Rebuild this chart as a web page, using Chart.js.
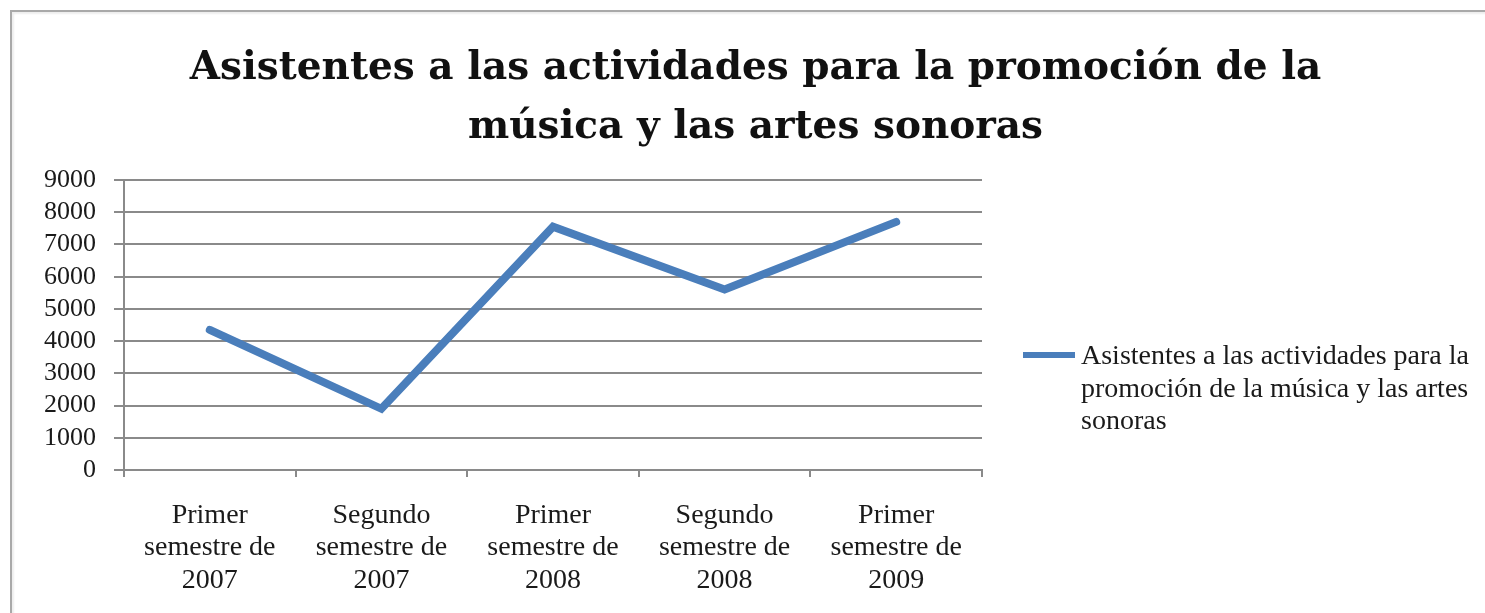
<!DOCTYPE html>
<html>
<head>
<meta charset="utf-8">
<script src="https://cdn.jsdelivr.net/npm/chart.js@4/dist/chart.umd.min.js"></script>
<style>
  html, body { margin: 0; padding: 0; background: #fff; overflow: hidden; }
  #frame { position: absolute; left: 10px; top: 10px; width: 1600px; height: 800px;
           border-left: 2px solid #a9a9a9; border-top: 2px solid #a9a9a9;
           box-shadow: inset 2px 2px 2px #eeeeee; }
  #c { position: absolute; left: 0; top: 0; }
</style>
</head>
<body>
<div id="frame"></div>
<canvas id="c" width="1485" height="613"></canvas>
<script>
const titleLines = ['Asistentes a las actividades para la promoción de la', 'música y las artes sonoras'];
const categories = [
  ['Primer', 'semestre de', '2007'],
  ['Segundo', 'semestre de', '2007'],
  ['Primer', 'semestre de', '2008'],
  ['Segundo', 'semestre de', '2008'],
  ['Primer', 'semestre de', '2009']
];
const seriesLabel = 'Asistentes a las actividades para la promoción de la música y las artes sonoras';
const seriesValues = [4350, 1900, 7550, 5600, 7700];
const yTicks = [0, 1000, 2000, 3000, 4000, 5000, 6000, 7000, 8000, 9000];

const lineColor = '#4a7ebb';
const gridColor = '#8a8a8a';
const serif = "'Liberation Serif', 'DejaVu Serif', serif";
const titleFont = "'DejaVu Serif', 'Liberation Serif', serif";

const wrappedLegend = {
  id: 'wrappedLegend',
  afterDraw(chart) {
    const ctx = chart.ctx;
    const ds = chart.data.datasets[0];
    ctx.save();
    ctx.font = "28px " + serif;
    const maxW = 395;
    const words = ds.label.split(' ');
    const lines = [];
    let cur = '';
    for (const w of words) {
      const t = cur ? cur + ' ' + w : w;
      if (ctx.measureText(t).width > maxW && cur) { lines.push(cur); cur = w; }
      else cur = t;
    }
    if (cur) lines.push(cur);
    const x0 = chart.chartArea.right + 41;
    const yMid = (chart.chartArea.top + chart.chartArea.bottom) / 2;
    const lh = 32.5;
    const yFirst = yMid + 32;
    ctx.strokeStyle = ds.borderColor;
    ctx.lineWidth = 6;
    ctx.beginPath();
    ctx.moveTo(x0, yFirst - 2);
    ctx.lineTo(x0 + 52, yFirst - 2);
    ctx.stroke();
    ctx.fillStyle = '#1a1a1a';
    ctx.textBaseline = 'middle';
    ctx.textAlign = 'left';
    lines.forEach((l, i) => ctx.fillText(l, x0 + 58, yFirst + i * lh));
    ctx.restore();
  }
};

new Chart(document.getElementById('c'), {
  type: 'line',
  data: {
    labels: categories,
    datasets: [{
      label: seriesLabel,
      data: seriesValues,
      borderColor: lineColor,
      backgroundColor: lineColor,
      borderWidth: 8,
      tension: 0,
      pointRadius: 0,
      borderCapStyle: 'round',
      borderJoinStyle: 'miter',
      fill: false
    }]
  },
  options: {
    responsive: false,
    animation: false,
    devicePixelRatio: 1,
    layout: { padding: { left: 26, right: 0, top: 0, bottom: 0 } },
    plugins: {
      legend: { display: false },
      tooltip: { enabled: false },
      title: {
        display: true,
        text: titleLines,
        color: '#111',
        font: { family: titleFont, size: 39, weight: 'bold', lineHeight: 1.513 },
        padding: { top: 39, bottom: 23 }
      }
    },
    scales: {
      x: {
        offset: true,
        grid: { display: true, offset: true, drawOnChartArea: false, drawTicks: true, tickLength: 7, color: gridColor, lineWidth: 2 },
        border: { display: true, color: gridColor, width: 2 },
        ticks: { color: '#1a1a1a', padding: 22, maxRotation: 0, autoSkip: false,
                 font: { family: serif, size: 28, lineHeight: 1.16 } },
        afterFit(scale) { scale.height = 143; }
      },
      y: {
        min: 0, max: 9000,
        afterBuildTicks(scale) { scale.ticks = yTicks.map(v => ({ value: v })); },
        grid: { color: gridColor, lineWidth: 2, drawTicks: true, tickLength: 10 },
        border: { display: true, color: gridColor, width: 2 },
        ticks: { color: '#1a1a1a', padding: 18, autoSkip: false, font: { family: serif, size: 26 },
                 callback: (v) => String(v) },
        afterFit(scale) { scale.width = 124 - 26; }
      },
      legendSpace: {
        type: 'linear',
        position: 'right',
        display: true,
        grid: { display: false, drawTicks: false },
        border: { display: false },
        ticks: { display: false },
        afterFit(scale) { scale.width = 503; }
      }
    }
  },
  plugins: [wrappedLegend]
});
</script>
</body>
</html>
